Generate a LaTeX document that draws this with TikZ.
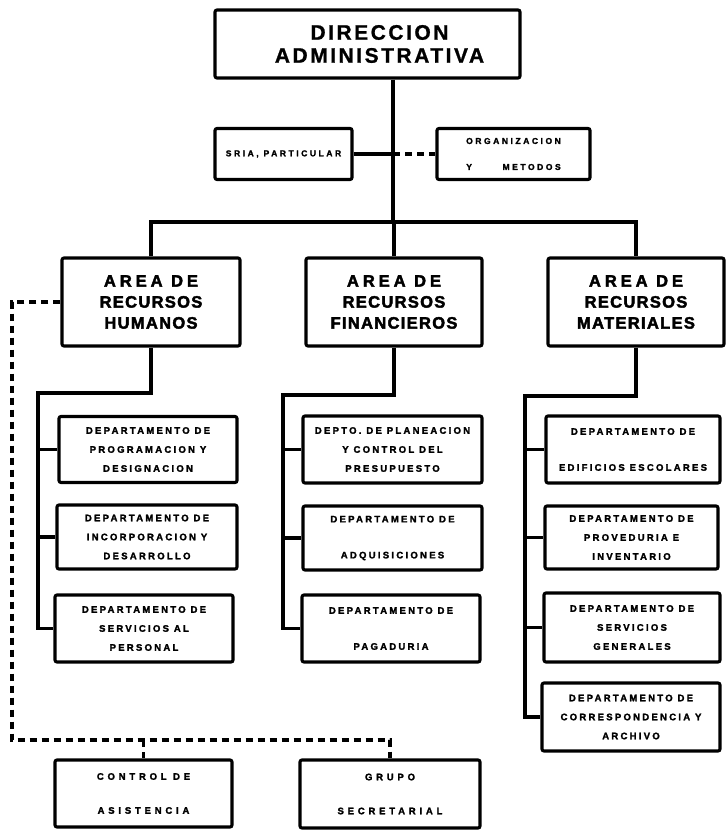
\documentclass[tikz,border=0pt]{standalone}
\usepackage{fontspec}
\setmainfont{Liberation Sans}
\newfontfamily\titlefont{Liberation Sans}[LetterSpace=12]
\newfontfamily\areafont{Liberation Sans}[LetterSpace=8]
\newfontfamily\deptfont{Liberation Sans}[LetterSpace=24]
\usetikzlibrary{positioning,backgrounds}

\begin{document}
\begin{tikzpicture}[
			x=1pt, y=-1pt,
			caja/.style={draw, line width=3.1pt, rounded corners=2pt, inner sep=0pt, align=center},
			jefe/.style={caja, minimum width=305pt, minimum height=68pt, font=\titlefont\bfseries\addfontfeatures{FakeBold=1}\fontsize{21}{23}\selectfont},
			area/.style={caja, minimum width=177pt, minimum height=88pt, font=\areafont\bfseries\addfontfeatures{FakeBold=2.5}\fontsize{16.5}{21}\selectfont},
			depto/.style={caja, minimum width=178pt, minimum height=66pt, font=\deptfont\bfseries\addfontfeatures{FakeBold=2}\fontsize{9.5}{19}\selectfont},
			apoyo/.style={caja, minimum height=51pt, font=\deptfont\bfseries\addfontfeatures{FakeBold=2,LetterSpace=30}\fontsize{8.5}{26}\selectfont},
			base/.style={depto, font=\deptfont\bfseries\addfontfeatures{FakeBold=2,LetterSpace=40}\fontsize{9.5}{19}\selectfont},
			ln/.style={line width=3.1pt},
			dsh/.style={line width=3.1pt, dash pattern=on 7pt off 5pt}
		]
		\useasboundingbox (0,0) rectangle (727,834);

		\node[jefe] (dir) at (367.5,44) {\hspace*{24pt}DIRECCION\\\hspace*{24pt}ADMINISTRATIVA};
		\node[apoyo, minimum width=137pt] (sria) at (283.5,154) {SRIA, PARTICULAR};
		\node[apoyo, minimum width=153pt] (org) at (513.5,154) {ORGANIZACION\\Y\hspace{3.6em}METODOS};

		\node[area, minimum width=178pt] (hum) at (151,302) {{\addfontfeatures{LetterSpace=24}AREA DE}\\RECURSOS\\HUMANOS};
		\node[area, minimum width=176pt] (fin) at (394,302) {{\addfontfeatures{LetterSpace=24}AREA DE}\\RECURSOS\\FINANCIEROS};
		\node[area, minimum width=176pt] (mat) at (636,302) {{\addfontfeatures{LetterSpace=24}AREA DE}\\RECURSOS\\MATERIALES};

		\node[depto] (h1) at (148,449.5) {DEPARTAMENTO DE\\PROGRAMACION Y\\DESIGNACION};
		\node[depto, minimum width=180pt, minimum height=64pt] (h2) at (147,537) {DEPARTAMENTO DE\\INCORPORACION Y\\DESARROLLO};
		\node[depto, minimum height=67pt] (h3) at (144,628.5) {DEPARTAMENTO DE\\SERVICIOS AL\\PERSONAL};

		\node[depto, minimum width=179pt, minimum height=67pt] (f1) at (392.5,449.5) {DEPTO. DE PLANEACION\\Y CONTROL DEL\\PRESUPUESTO};
		\node[depto, minimum width=179pt, minimum height=64pt] (f2) at (392.5,538) {DEPARTAMENTO DE\\[17pt]ADQUISICIONES};
		\node[depto, minimum height=67pt] (f3) at (391,628.5) {DEPARTAMENTO DE\\[17pt]PAGADURIA};

		\node[depto, minimum width=174pt, minimum height=67pt] (m1) at (633,449.5) {DEPARTAMENTO DE\\[17pt]EDIFICIOS ESCOLARES};
		\node[depto, minimum width=173pt, minimum height=63pt] (m2) at (631.5,537.5) {DEPARTAMENTO DE\\PROVEDURIA E\\INVENTARIO};
		\node[depto, minimum width=176pt, minimum height=69pt] (m3) at (632,627.5) {DEPARTAMENTO DE\\SERVICIOS\\GENERALES};
		\node[depto, minimum height=68pt] (m4) at (631,717) {DEPARTAMENTO DE\\CORRESPONDENCIA Y\\ARCHIVO};

		\node[base, minimum width=177pt, minimum height=67pt] (ctrl) at (143.5,793.5) {CONTROL DE\\[15pt]ASISTENCIA};
		\node[base, minimum width=180pt, minimum height=68pt] (grupo) at (390,794) {GRUPO\\[15pt]SECRETARIAL};

		\coordinate (top) at (393,222);
		\coordinate (hbus) at (38,393);
		\coordinate (fbus) at (283,395);
		\coordinate (mbus) at (525,396);
		\coordinate (dcorner) at (12,740);

		\begin{scope}[on background layer]
		\draw[ln] (dir.south -| top) -- (top);
		\draw[ln] (sria.east) -- (sria.east -| top);
		\draw[dsh] (org.west -| top) -- (org.west);
		\draw[ln] (hum.north) |- (top) -| (mat.north);
		\draw[ln] (fin.north) -- (fin.north |- top);

		\draw[ln] (hum.south) |- (hbus) |- (h3.west);
		\draw[ln] (hbus |- h1.west) -- (h1.west);
		\draw[ln] (hbus |- h2.west) -- (h2.west);

		\draw[ln] (fin.south) |- (fbus) |- (f3.west);
		\draw[ln] (fbus |- f1.west) -- (f1.west);
		\draw[ln] (fbus |- f2.west) -- (f2.west);

		\draw[ln] (mat.south) |- (mbus) |- (m4.west);
		\draw[ln] (mbus |- m1.west) -- (m1.west);
		\draw[ln] (mbus |- m2.west) -- (m2.west);
		\draw[ln] (mbus |- m3.west) -- (m3.west);

		\draw[dsh] (hum.west) -| (dcorner) -| (grupo.north);
		\draw[dsh] (ctrl.north |- dcorner) -- (ctrl.north);
		\end{scope}
	\end{tikzpicture}
\end{document}
